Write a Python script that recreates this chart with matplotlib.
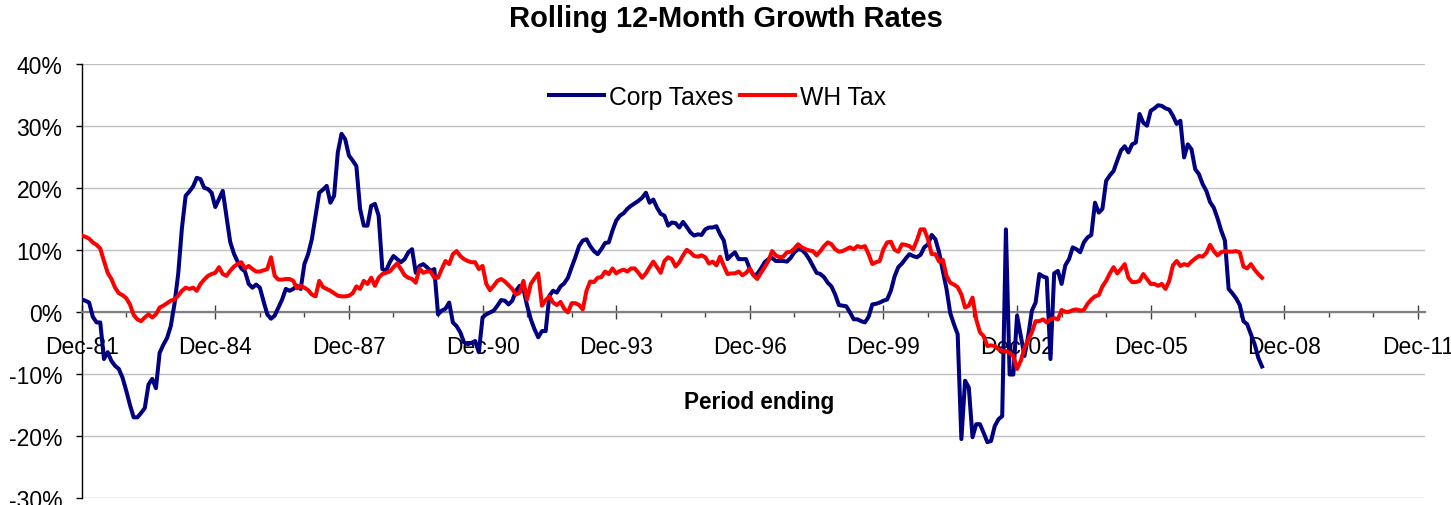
import numpy as np
import matplotlib.pyplot as plt
from matplotlib.ticker import FuncFormatter

plt.rcParams["font.family"] = ["Liberation Sans", "DejaVu Sans"]

# monthly rolling 12-month growth, % (first point = Dec-81)
corp_taxes = [
    2.0, 1.8, 1.5, -0.8, -1.7, -1.7, -7.6, -6.5, -7.9, -8.7,
    -9.2, -10.6, -12.7, -15.0, -17.0, -17.0, -16.3, -15.5, -11.7, -10.8,
    -12.3, -6.6, -5.3, -4.2, -2.3, 1.3, 6.1, 13.5, 18.7, 19.4,
    20.2, 21.6, 21.4, 20.0, 19.8, 19.2, 16.9, 18.2, 19.5, 15.4,
    11.3, 9.4, 8.1, 7.0, 6.5, 4.5, 3.9, 4.4, 3.9, 1.7,
    -0.4, -1.1, -0.6, 0.7, 2.0, 3.7, 3.4, 3.7, 4.2, 3.7,
    7.7, 9.3, 11.7, 15.5, 19.2, 19.7, 20.3, 17.6, 18.7, 25.7,
    28.7, 27.8, 25.2, 24.4, 23.5, 16.6, 13.9, 13.9, 17.1, 17.4,
    15.5, 6.9, 6.6, 8.0, 9.0, 8.5, 8.0, 8.5, 9.6, 10.1,
    6.3, 7.4, 7.7, 7.2, 6.6, 6.9, -0.4, 0.2, 0.5, 1.5,
    -1.7, -2.3, -3.3, -4.9, -5.2, -5.0, -4.7, -6.5, -0.9, -0.4,
    -0.1, 0.2, 1.0, 1.9, 1.8, 1.2, 1.8, 3.4, 4.2, 3.7,
    1.0, -1.2, -2.8, -4.1, -3.1, -3.1, 2.6, 3.4, 3.1, 4.1,
    4.6, 5.5, 7.2, 8.8, 10.6, 11.5, 11.7, 10.6, 9.8, 9.3,
    10.1, 11.1, 11.2, 13.1, 14.7, 15.5, 15.9, 16.6, 17.1, 17.5,
    17.9, 18.4, 19.2, 17.6, 18.1, 16.8, 15.8, 15.5, 13.9, 14.4,
    14.3, 13.6, 14.5, 13.7, 12.8, 12.3, 12.5, 12.4, 13.3, 13.6,
    13.6, 13.8, 12.5, 11.5, 8.5, 9.1, 9.6, 8.5, 8.5, 8.5,
    6.9, 5.9, 6.1, 7.0, 8.0, 8.5, 8.7, 8.2, 8.2, 8.2,
    8.1, 8.7, 9.6, 10.1, 10.0, 9.4, 8.5, 7.4, 6.3, 6.1,
    5.6, 4.7, 4.1, 2.8, 1.1, 1.0, 0.9, -0.1, -1.2, -1.2,
    -1.5, -1.7, -0.8, 1.2, 1.3, 1.5, 1.8, 2.0, 3.4, 5.7,
    7.2, 7.8, 8.6, 9.3, 9.0, 8.8, 9.2, 10.4, 10.9, 12.4,
    11.7, 9.6, 6.6, 3.7, -0.2, -2.0, -3.6, -20.5, -11.1, -12.2,
    -20.2, -18.1, -18.1, -19.5, -21.0, -20.8, -18.4, -17.3, -16.8, 13.3,
    -10.1, -10.1, -0.6, -3.9, -7.1, -3.9, 0.2, 1.5, 6.1, 5.7,
    5.5, -7.6, 6.2, 6.6, 4.5, 7.5, 8.5, 10.4, 10.1, 9.6,
    11.2, 12.0, 12.4, 17.6, 16.0, 16.6, 21.1, 22.0, 22.7, 24.4,
    26.0, 26.7, 25.7, 27.0, 27.3, 31.9, 30.5, 30.0, 32.4, 32.8,
    33.3, 33.2, 32.8, 32.6, 31.6, 30.3, 30.8, 24.9, 27.0, 26.2,
    23.0, 22.2, 20.6, 19.5, 17.7, 16.8, 15.1, 13.1, 11.5, 3.7,
    3.0, 2.2, 1.1, -1.5, -2.0, -3.6, -5.2, -7.4, -8.8,
]

wh_tax = [
    12.3, 12.1, 11.8, 11.2, 10.8, 10.2, 8.2, 6.3, 5.3, 3.9,
    3.0, 2.7, 2.2, 1.2, -0.5, -1.2, -1.5, -0.9, -0.4, -0.9,
    -0.4, 0.7, 1.0, 1.4, 1.8, 2.0, 2.6, 3.4, 3.9, 3.7,
    3.9, 3.4, 4.5, 5.2, 5.8, 6.1, 6.3, 7.2, 6.1, 5.8,
    6.6, 7.3, 7.7, 8.0, 7.0, 7.4, 6.9, 6.5, 6.5, 6.7,
    6.9, 8.8, 5.8, 5.2, 5.2, 5.3, 5.3, 5.0, 3.8, 4.2,
    3.9, 3.5, 2.8, 2.5, 5.0, 4.0, 3.7, 3.4, 3.0, 2.6,
    2.5, 2.5, 2.6, 3.0, 4.1, 3.7, 5.0, 4.5, 5.5, 4.2,
    5.5, 6.1, 6.3, 6.5, 7.2, 7.8, 6.9, 5.9, 5.5, 5.3,
    4.7, 7.0, 6.3, 6.5, 6.5, 5.5, 5.5, 6.9, 8.2, 7.7,
    9.3, 9.8, 9.0, 8.5, 8.2, 8.0, 8.0, 6.9, 7.4, 4.5,
    3.5, 4.2, 5.0, 5.3, 4.9, 4.3, 3.7, 2.8, 3.1, 5.0,
    2.0, 4.5, 5.4, 6.2, 1.0, 1.9, 2.5, 1.5, 1.1, 1.6,
    0.5, -0.1, 1.4, 1.4, 1.1, 0.4, 3.4, 4.9, 4.8, 5.5,
    5.6, 6.5, 6.1, 7.0, 6.2, 6.6, 6.8, 6.5, 7.0, 7.0,
    6.3, 5.5, 6.2, 7.2, 8.1, 7.2, 6.3, 8.2, 8.8, 8.5,
    7.3, 8.0, 9.1, 10.0, 9.6, 9.0, 8.9, 9.1, 8.8, 7.8,
    8.1, 7.5, 8.9, 7.4, 6.1, 6.2, 6.2, 6.5, 5.9, 6.3,
    7.0, 5.9, 5.3, 6.3, 7.2, 8.2, 9.8, 9.1, 8.8, 8.9,
    9.6, 9.7, 10.2, 10.9, 10.4, 10.1, 9.9, 9.8, 9.1, 9.8,
    10.6, 11.2, 10.9, 10.1, 9.7, 9.8, 10.1, 10.4, 10.1, 10.6,
    10.4, 10.6, 9.3, 7.7, 8.0, 8.2, 10.1, 11.2, 11.3, 10.0,
    9.7, 10.9, 10.8, 10.6, 10.1, 11.5, 13.3, 13.3, 11.7, 9.3,
    9.3, 8.1, 8.4, 5.8, 4.7, 4.4, 4.0, 2.8, 0.7, 1.0,
    2.3, -1.2, -3.3, -3.9, -5.5, -5.4, -5.5, -6.0, -6.3, -6.3,
    -6.6, -7.1, -9.2, -7.9, -5.8, -4.5, -3.3, -1.5, -1.5, -1.2,
    -1.7, -1.2, -1.0, -1.2, 0.3, 0.0, 0.0, 0.3, 0.4, 0.2,
    0.3, 1.3, 2.0, 2.5, 2.7, 4.1, 5.0, 6.2, 7.2, 6.2,
    6.9, 7.7, 5.5, 4.8, 4.8, 5.0, 6.1, 5.3, 4.5, 4.5,
    4.2, 4.5, 3.7, 5.0, 7.5, 8.2, 7.4, 7.7, 7.5, 8.1,
    8.6, 9.0, 8.9, 9.5, 10.8, 9.8, 9.1, 9.6, 9.8, 9.7,
    9.7, 9.8, 9.6, 7.3, 7.0, 7.7, 6.8, 6.1, 5.5,
]

tick_labels = ["Dec-81", "Dec-84", "Dec-87", "Dec-90", "Dec-93", "Dec-96",
               "Dec-99", "Dec-02", "Dec-05", "Dec-08", "Dec-11"]

W, H = 1451, 506
fig = plt.figure(figsize=(W / 100, H / 100), dpi=100)
ax = fig.add_axes([81.7 / W, 1 - 499 / H, (1424.6 - 81.7) / W, (499 - 64.7) / H])

x_corp = np.arange(len(corp_taxes))
x_wh = np.arange(len(wh_tax))
ax.plot(x_corp, np.array(corp_taxes) / 100, color="#000080", lw=2.9,
        label="Corp Taxes", solid_joinstyle="round", zorder=3)
ax.plot(x_wh, np.array(wh_tax) / 100, color="#ff0000", lw=2.9,
        label="WH Tax", solid_joinstyle="round", zorder=4)

# axes
ax.set_xlim(0, 361.8)
ax.set_ylim(-0.30, 0.40)
ax.set_yticks(np.arange(-3, 5) / 10)
ax.yaxis.set_major_formatter(FuncFormatter(lambda v, p: f"{int(round(v * 100))}%"))
ax.grid(axis="y", color="#c0c0c0", lw=1)
ax.set_axisbelow(True)

ax.spines["top"].set_visible(False)
ax.spines["right"].set_visible(False)
ax.spines["left"].set_color("black")
ax.spines["left"].set_linewidth(1)
ax.spines["bottom"].set_position(("data", 0))
ax.spines["bottom"].set_color("#808080")
ax.spines["bottom"].set_linewidth(1.6)

major = [36 * i for i in range(len(tick_labels))]
minor = [12 * i for i in range(31) if i % 3 != 0]
ax.set_xticks(major)
ax.set_xticklabels(tick_labels)
ax.set_xticks(minor, minor=True)
ax.tick_params(axis="x", which="major", direction="inout", length=10, width=1,
               color="#404040", labelsize=16.5, pad=12)
ax.tick_params(axis="x", which="minor", direction="out", length=3.6, width=1,
               color="#404040")
ax.tick_params(axis="y", direction="out", length=4.3, width=1, labelsize=16.5, pad=9.5)

# texts
fig.text(0.5, 1 - 19 / H, "Rolling 12-Month Growth Rates", ha="center", va="center",
         fontsize=21, fontweight="bold")
fig.text(759 / W, 1 - 403 / H, "Period ending", ha="center", va="center",
         fontsize=16.3, fontweight="bold")

fig.legend(loc="center", bbox_to_anchor=(717.5 / W, 1 - 98 / H), ncol=2,
           frameon=False, fontsize=17.8, handlelength=2.2, handletextpad=0.2,
           columnspacing=0.3, borderpad=0)

fig.savefig("out.png", dpi=100)
